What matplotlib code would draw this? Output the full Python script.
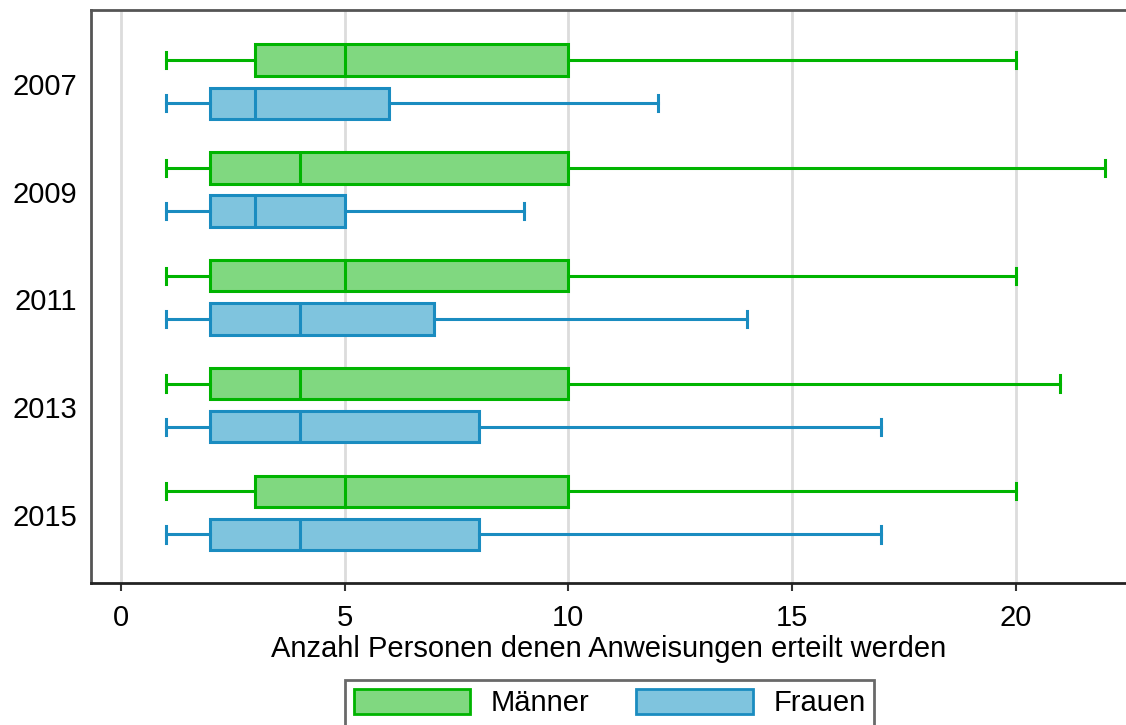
import matplotlib.pyplot as plt
from matplotlib.patches import Patch

plt.rcParams['font.family'] = ['Liberation Sans', 'DejaVu Sans']

jahre = ['2007', '2009', '2011', '2013', '2015']

# Boxplot-Kennwerte: untere Whisker, Q1, Median, Q3, obere Whisker
maenner_lo = [1, 1, 1, 1, 1]
maenner_q1 = [3, 2, 2, 2, 3]
maenner_med = [5, 4, 5, 4, 5]
maenner_q3 = [10, 10, 10, 10, 10]
maenner_hi = [20, 22, 20, 21, 20]

frauen_lo = [1, 1, 1, 1, 1]
frauen_q1 = [2, 2, 2, 2, 2]
frauen_med = [3, 3, 4, 4, 4]
frauen_q3 = [6, 5, 7, 8, 8]
frauen_hi = [12, 9, 14, 17, 17]

gruen_fill, gruen_rand = '#80d880', '#00b400'
blau_fill, blau_rand = '#7fc4de', '#1a8cc0'


def stats(lo, q1, med, q3, hi):
    return [dict(whislo=a, q1=b, med=c, q3=d, whishi=e, fliers=[])
            for a, b, c, d, e in zip(lo, q1, med, q3, hi)]


fig = plt.figure(figsize=(11.26, 7.25), dpi=100)
ax = fig.add_axes([91 / 1126, 142 / 725, 1 - 91 / 1126, 573 / 725])

pos = list(range(1, len(jahre) + 1))

def zeichne(st, offs, fc, ec):
    lw = 2.2
    ax.bxp(st, positions=[p + offs for p in pos], vert=False, widths=0.29,
           capwidths=0.15, patch_artist=True, showfliers=False,
           boxprops=dict(facecolor=fc, edgecolor=ec, linewidth=lw),
           medianprops=dict(color=ec, linewidth=lw),
           whiskerprops=dict(color=ec, linewidth=lw),
           capprops=dict(color=ec, linewidth=lw), manage_ticks=False,
           zorder=3)

zeichne(stats(maenner_lo, maenner_q1, maenner_med, maenner_q3, maenner_hi),
        -0.22, gruen_fill, gruen_rand)
zeichne(stats(frauen_lo, frauen_q1, frauen_med, frauen_q3, frauen_hi),
        0.18, blau_fill, blau_rand)

ax.set_xlim(-0.67, 22.47)
ax.set_ylim(5.63, 0.315)
ax.set_xticks([0, 5, 10, 15, 20])
ax.set_yticks(pos)
ax.set_yticklabels(jahre)
ax.tick_params(axis='y', length=0, labelsize=21, pad=10)
ax.tick_params(axis='x', length=6, width=1.5, color='#333333', labelsize=21, pad=9)
ax.grid(axis='x', color='#dcdcdc', linewidth=2, zorder=0)
ax.set_axisbelow(True)
for s in ['left', 'top', 'bottom']:
    ax.spines[s].set_linewidth(2)
    ax.spines[s].set_color('#555555')
ax.spines['bottom'].set_color('#222222')
ax.spines['right'].set_visible(False)
ax.set_xlabel('Anzahl Personen denen Anweisungen erteilt werden',
              fontsize=21, labelpad=2)

handles = [Patch(facecolor=gruen_fill, edgecolor=gruen_rand, linewidth=2, label='Männer'),
           Patch(facecolor=blau_fill, edgecolor=blau_rand, linewidth=2, label='Frauen')]
leg = fig.legend(handles=handles, loc='upper left', bbox_to_anchor=(345 / 1126, 45 / 725),
                 ncol=2, fontsize=21, frameon=True, fancybox=False, handlelength=4.0,
                 handleheight=0.95, columnspacing=1.6, handletextpad=0.7,
                 borderpad=0.3, borderaxespad=0)
leg.get_frame().set_edgecolor('#444444')
leg.get_frame().set_linewidth(2)

fig.savefig('out.png', dpi=100)
